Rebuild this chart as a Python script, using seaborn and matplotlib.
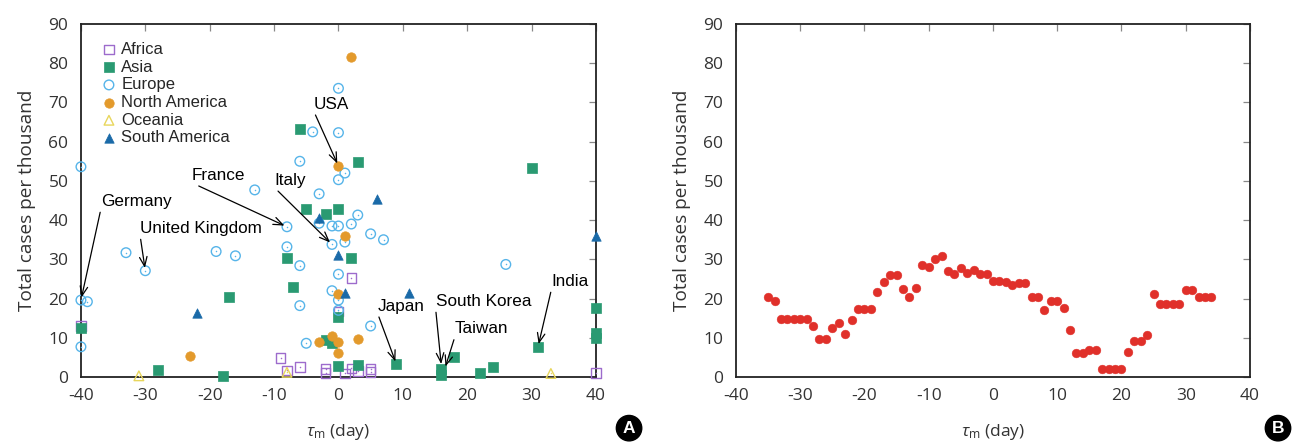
import matplotlib
matplotlib.use("Agg")
import matplotlib.pyplot as plt
import seaborn as sns

# ---------------- data: panel A (tau_m in days, total cases per thousand) ----------------
africa_x = [-40, -9, -8, -6, -2, -2, 0, 1, 2, 2, 3, 5, 5, 40]
africa_y = [13.0, 4.8, 1.7, 2.6, 2.0, 1.1, 16.7, 0.9, 2.2, 25.2, 1.6, 2.0, 1.2, 1.1]

asia_x = [-40, -28, -18, -17, -8, -7, -6, -5, -2, -2, -1, 0, 0, 0, 2, 3, 3,
          9, 16, 16, 18, 22, 24, 30, 31, 40, 40, 40]
asia_y = [12.6, 1.8, 0.3, 20.3, 30.3, 23.0, 63.3, 42.8, 41.6, 9.4, 8.6, 42.8, 15.4, 2.9, 30.4, 54.8, 3.1,
          3.3, 0.5, 2.0, 5.2, 1.1, 2.5, 53.2, 7.7, 17.5, 11.2, 10.0]

europe_x = [-40, -40, -39, -40, -33, -30, -19, -16, -13, -8, -8, -6, -6, -6, -5, -4, -3, -3,
            -1, -1, -1, 0, 0, 0, 0, 0, 0, 0, 1, 1, 2, 3, 5, 5, 7, 26]
europe_y = [53.6, 19.6, 19.2, 7.7, 31.7, 27.1, 32.0, 30.9, 47.7, 38.3, 33.2, 55.0, 28.4, 18.2, 8.6, 62.5, 46.7, 39.2,
            38.5, 33.8, 22.0, 73.6, 62.3, 50.3, 38.5, 26.2, 19.6, 17.0, 52.0, 34.4, 39.0, 41.3, 36.5, 13.0, 35.0, 28.7]

namerica_x = [-23, -3, -1, 0, 0, 0, 0, 1, 2, 3]
namerica_y = [5.4, 9.0, 10.5, 53.8, 21.2, 8.9, 6.0, 36.0, 81.6, 9.6]

oceania_x = [-31, -8, 33]
oceania_y = [0.3, 1.2, 0.9]

samerica_x = [-22, -3, 0, 1, 6, 11, 40]
samerica_y = [16.4, 40.5, 31.1, 21.3, 45.3, 21.5, 36.0]

# labelled countries: name, point, text position
country_names = ["Germany", "United Kingdom", "France", "Italy", "USA", "Japan", "South Korea", "Taiwan", "India"]
country_pts = [(-40, 19.6), (-30, 27.1), (-8, 38.3), (-1, 33.8), (0, 53.8), (9, 3.3), (16, 2.6), (16.5, 2.0), (31, 7.7)]
country_txt = [(-36.9, 43.6), (-30.8, 36.7), (-22.8, 50.3), (-9.9, 49.0), (-3.8, 68.4), (6.1, 16.9), (15.1, 18.1), (18.1, 11.1), (33.1, 23.2)]

# ---------------- data: panel B ----------------
tau_b = [-35, -34, -33, -32, -31, -30, -29, -28, -27, -26, -25, -24, -23, -22, -21, -20, -19, -18,
         -17, -16, -15, -14, -13, -12, -11, -10, -9, -8, -7, -6, -5, -4, -3, -2, -1, 0,
         1, 2, 3, 4, 5, 6, 7, 8, 9, 10, 11, 12, 13, 14, 15, 16, 17, 18,
         19, 20, 21, 22, 23, 24, 25, 26, 27, 28, 29, 30, 31, 32, 33, 34]
cases_b = [20.3, 19.3, 14.9, 14.9, 14.9, 14.9, 14.9, 12.9, 9.8, 9.8, 12.5, 13.7, 11.0, 14.6, 17.3, 17.3, 17.3, 21.6,
           24.3, 26.0, 26.0, 22.4, 20.5, 22.8, 28.5, 28.0, 30.0, 30.8, 27.0, 26.3, 27.7, 26.6, 27.4, 26.3, 26.3, 24.4,
           24.6, 24.2, 23.4, 23.9, 23.9, 20.4, 20.4, 17.0, 19.4, 19.4, 17.5, 12.1, 6.2, 6.2, 7.0, 7.0, 2.0, 2.0,
           2.0, 2.0, 6.5, 9.3, 9.3, 10.6, 21.1, 18.5, 18.5, 18.5, 18.5, 22.3, 22.3, 20.3, 20.3, 20.3]

xticks = [-40, -30, -20, -10, 0, 10, 20, 30, 40]
yticks = [0, 10, 20, 30, 40, 50, 60, 70, 80, 90]

# ---------------- style ----------------
sns.set_style("white")
plt.rcParams['font.family'] = ['Open Sans', 'DejaVu Sans']
plt.rcParams['mathtext.fontset'] = 'custom'
plt.rcParams['mathtext.rm'] = 'Open Sans'
plt.rcParams['mathtext.it'] = 'Open Sans:italic'

fig = plt.figure(figsize=(12.93, 4.46), dpi=100)
axA = fig.add_axes([0.0626, 0.1547, 0.3983, 0.7915])
axB = fig.add_axes([0.5692, 0.1547, 0.3975, 0.7915])

groups = [
    ("Africa", africa_x, africa_y, "s", "#9d6bcc", False),
    ("Asia", asia_x, asia_y, "s", "#2a9a72", True),
    ("Europe", europe_x, europe_y, "o", "#56b4e9", False),
    ("North America", namerica_x, namerica_y, "o", "#e39a2c", True),
    ("Oceania", oceania_x, oceania_y, "^", "#e8d65c", False),
    ("South America", samerica_x, samerica_y, "^", "#1a6aa8", True),
]
for name, gx, gy, mk, col, filled in groups:
    if filled:
        sns.scatterplot(x=gx, y=gy, ax=axA, marker=mk, s=46, color=col,
                        edgecolor=col, linewidth=0.5, label=name, clip_on=False, zorder=3)
    else:
        sns.scatterplot(x=gx, y=gy, ax=axA, marker=mk, s=48, facecolor='none',
                        edgecolor=col, linewidth=1.0, label=name, clip_on=False, zorder=3)
        # gnuplot-like centre dot
        sns.scatterplot(x=gx, y=gy, ax=axA, marker='o', s=1.2, color=col,
                        edgecolor=col, linewidth=0, clip_on=False, zorder=3, legend=False)

for name, pt, tp in zip(country_names, country_pts, country_txt):
    axA.annotate(name, xy=pt, xytext=tp, ha='left', va='baseline',
                 fontsize=12.3, family=['Liberation Sans', 'DejaVu Sans'], color='black',
                 arrowprops=dict(arrowstyle='->,head_length=0.55,head_width=0.22', color='black',
                                 lw=0.9, shrinkA=0, shrinkB=2, relpos=(0, 0)), zorder=4)

leg = axA.legend(loc='upper left', frameon=False, prop={'family': 'Liberation Sans', 'size': 12},
                 handletextpad=0.15, labelspacing=0.16, borderaxespad=0.0, handlelength=1.2,
                 bbox_to_anchor=(0.022, 0.968))

sns.scatterplot(x=tau_b, y=cases_b, ax=axB, marker='o', s=40, color='#e0302a',
                edgecolor='#e0302a', linewidth=0.3, zorder=3)

for ax in (axA, axB):
    ax.set_xlim(-40, 40)
    ax.set_ylim(0, 90)
    ax.set_xticks(xticks)
    ax.set_yticks(yticks)
    ax.set_xticklabels([str(v) for v in xticks])
    ax.set_yticklabels([str(v) for v in yticks])
    for sp in ax.spines.values():
        sp.set_visible(True)
        sp.set_color('#222222')
        sp.set_linewidth(1.3)
    ax.tick_params(axis='both', direction='in', length=5, width=0.9, color='#888888',
                   labelsize=12.5, labelcolor='#333333', top=True, right=True)
    ax.tick_params(axis='y', pad=9)
    ax.tick_params(axis='x', pad=8)
    ax.set_xlabel(r'$\mathit{\tau}_{\mathrm{m}}$ (day)', fontsize=12.5, color='#333333', labelpad=13)
    ax.set_ylabel('Total cases per thousand', fontsize=13.7, color='#333333', labelpad=9)
    ax.grid(False)

# panel badges
for lbl, fx in (("A", 0.4865), ("B", 0.9884)):
    fig.text(fx, 0.04, lbl, ha='center', va='center', color='white', fontsize=12.5,
             fontweight='bold', family=['Liberation Sans', 'DejaVu Sans'],
             bbox=dict(boxstyle='circle,pad=0.3', fc='black', ec='black'))

fig.savefig("out.png", dpi=100)
